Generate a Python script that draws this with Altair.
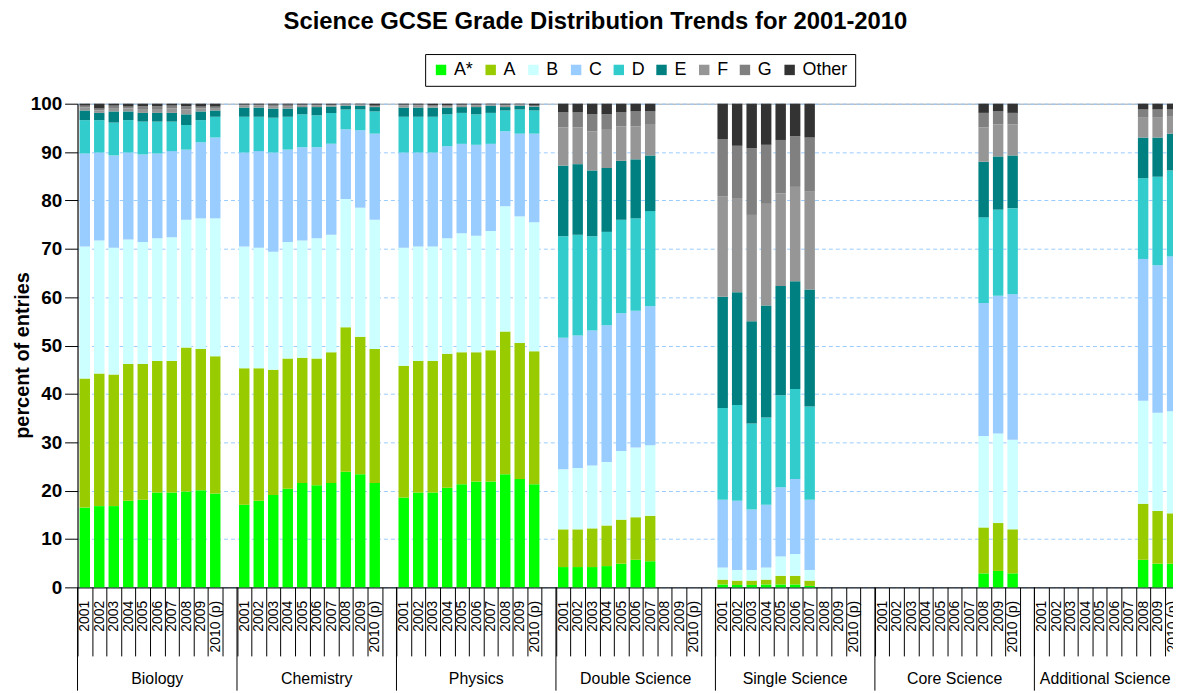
import altair as alt
import pandas as pd

# ---------------- data ----------------
GRADES = ["A*", "A", "B", "C", "D", "E", "F", "G", "Other"]
COLORS = ["#00ff00", "#99cc00", "#ccffff", "#99ccff", "#33cccc",
          "#008080", "#969696", "#808080", "#333333"]
YEARS = ["2001", "2002", "2003", "2004", "2005", "2006", "2007",
         "2008", "2009", "2010 (p)"]
SUBJECTS = ["Biology", "Chemistry", "Physics", "Double Science",
            "Single Science", "Core Science", "Additional Science"]

# each row: year, then % for A*, A, B, C, D, E, F, G, Other
BIOLOGY = [
    ["2001", 16.5, 26.7, 27.3, 19.2, 6.9, 2.0, 0.6, 0.4, 0.4],
    ["2002", 16.8, 27.4, 27.5, 18.2, 6.7, 1.5, 0.5, 0.4, 1.0],
    ["2003", 16.8, 27.2, 26.2, 19.1, 6.8, 2.3, 0.7, 0.5, 0.4],
    ["2004", 17.9, 28.3, 25.7, 18.0, 6.7, 1.8, 0.6, 0.4, 0.6],
    ["2005", 18.1, 28.1, 25.2, 18.1, 6.8, 1.8, 0.8, 0.6, 0.5],
    ["2006", 19.6, 27.2, 25.4, 17.5, 6.6, 1.8, 0.8, 0.6, 0.5],
    ["2007", 19.6, 27.2, 25.6, 17.8, 6.1, 1.8, 0.9, 0.6, 0.4],
    ["2008", 19.8, 29.8, 26.4, 14.5, 5.1, 2.2, 1.0, 0.7, 0.5],
    ["2009", 20.1, 29.2, 27.0, 15.7, 4.6, 1.8, 0.6, 0.4, 0.6],
    ["2010 (p)", 19.4, 28.4, 28.5, 16.7, 4.3, 1.3, 0.5, 0.3, 0.6],
]
CHEMISTRY = [
    ["2001", 17.1, 28.2, 25.2, 19.4, 7.4, 1.9, 0.4, 0.2, 0.2],
    ["2002", 17.9, 27.4, 24.9, 20.0, 7.1, 1.9, 0.4, 0.2, 0.2],
    ["2003", 19.1, 25.9, 24.4, 20.5, 7.2, 1.9, 0.5, 0.3, 0.2],
    ["2004", 20.4, 26.9, 24.1, 19.1, 6.8, 1.7, 0.5, 0.3, 0.2],
    ["2005", 21.6, 25.9, 24.2, 19.3, 6.8, 1.5, 0.3, 0.2, 0.2],
    ["2006", 21.1, 26.2, 24.9, 18.8, 6.6, 1.7, 0.3, 0.2, 0.2],
    ["2007", 21.6, 27.0, 24.3, 18.8, 6.4, 1.3, 0.3, 0.1, 0.2],
    ["2008", 23.9, 29.9, 26.5, 14.4, 4.1, 0.8, 0.2, 0.1, 0.1],
    ["2009", 23.4, 28.4, 26.7, 16.0, 4.3, 0.8, 0.2, 0.1, 0.1],
    ["2010 (p)", 21.6, 27.7, 26.7, 17.8, 4.6, 0.9, 0.2, 0.1, 0.4],
]
PHYSICS = [
    ["2001", 18.6, 27.2, 24.4, 19.7, 7.4, 1.9, 0.4, 0.2, 0.2],
    ["2002", 19.6, 27.2, 23.7, 19.4, 7.4, 1.9, 0.4, 0.2, 0.2],
    ["2003", 19.6, 27.2, 23.7, 19.4, 7.4, 1.9, 0.3, 0.2, 0.3],
    ["2004", 20.6, 27.7, 23.9, 19.0, 6.6, 1.4, 0.3, 0.2, 0.3],
    ["2005", 21.3, 27.3, 24.6, 18.5, 6.4, 1.2, 0.3, 0.2, 0.2],
    ["2006", 21.9, 26.7, 24.1, 18.8, 6.3, 1.5, 0.3, 0.2, 0.2],
    ["2007", 21.9, 27.1, 24.7, 18.0, 6.4, 1.5, 0.2, 0.1, 0.1],
    ["2008", 23.4, 29.5, 25.9, 15.5, 4.3, 0.7, 0.3, 0.2, 0.2],
    ["2009", 22.4, 28.1, 26.2, 17.1, 5.0, 0.8, 0.2, 0.1, 0.1],
    ["2010 (p)", 21.3, 27.5, 26.7, 18.3, 4.8, 0.8, 0.1, 0.1, 0.4],
]
DOUBLE_SCIENCE = [
    ["2001", 4.2, 7.8, 12.4, 27.2, 21.0, 14.6, 7.9, 3.1, 1.8],
    ["2002", 4.2, 7.8, 12.7, 27.4, 20.8, 14.6, 7.6, 3.1, 1.8],
    ["2003", 4.2, 8.0, 13.0, 27.9, 19.5, 13.6, 8.1, 3.5, 2.2],
    ["2004", 4.4, 8.4, 13.1, 28.3, 19.3, 13.2, 7.9, 3.2, 2.2],
    ["2005", 4.9, 9.1, 14.2, 28.5, 19.3, 12.2, 7.1, 2.9, 1.8],
    ["2006", 5.7, 8.8, 14.4, 28.3, 19.1, 12.2, 6.8, 3.1, 1.6],
    ["2007", 5.4, 9.4, 14.6, 28.7, 19.7, 11.5, 6.5, 2.6, 1.6],
]
SINGLE_SCIENCE = [
    ["2001", 0.6, 1.0, 2.5, 14.0, 19.0, 23.0, 20.7, 11.9, 7.3],
    ["2002", 0.5, 0.9, 2.2, 14.3, 19.8, 23.3, 19.5, 10.8, 8.7],
    ["2003", 0.5, 0.9, 2.2, 12.5, 17.8, 21.1, 22.0, 13.8, 9.2],
    ["2004", 0.6, 1.0, 2.5, 13.0, 18.0, 23.2, 21.0, 12.2, 8.5],
    ["2005", 0.6, 1.8, 4.0, 14.3, 19.0, 22.6, 19.2, 11.0, 7.5],
    ["2006", 0.6, 1.8, 4.5, 15.5, 18.6, 22.3, 19.5, 10.5, 6.7],
    ["2007", 0.3, 1.1, 2.2, 14.5, 19.3, 24.2, 20.2, 11.2, 7.0],
]
CORE_SCIENCE = [
    ["2008", 2.9, 9.5, 18.9, 27.5, 17.7, 11.5, 7.1, 3.0, 1.9],
    ["2009", 3.4, 9.9, 18.5, 28.5, 17.8, 11.0, 6.6, 2.7, 1.6],
    ["2010 (p)", 2.9, 9.1, 18.5, 30.1, 17.8, 10.9, 6.4, 2.4, 1.9],
]
ADDITIONAL_SCIENCE = [
    ["2008", 5.7, 11.6, 21.3, 29.3, 16.7, 8.4, 4.1, 1.7, 1.2],
    ["2009", 4.9, 10.9, 20.3, 30.5, 18.3, 8.1, 4.1, 1.7, 1.2],
    ["2010 (p)", 4.9, 10.4, 21.1, 32.0, 17.8, 7.6, 3.5, 1.5, 1.2],
]
TABLES = [BIOLOGY, CHEMISTRY, PHYSICS, DOUBLE_SCIENCE,
          SINGLE_SCIENCE, CORE_SCIENCE, ADDITIONAL_SCIENCE]

rows = []
for subj, table in zip(SUBJECTS, TABLES):
    for rec in table:
        for gi, g in enumerate(GRADES):
            rows.append({"key": f"{subj}|{rec[0]}", "grade": g,
                         "gi": gi, "value": rec[1 + gi]})
df = pd.DataFrame(rows)

# ten year slots plus one empty slot per subject
KEYS = [f"{s}|{y}" for s in SUBJECTS for y in YEARS + [""]]
groups = pd.DataFrame({
    "subject": SUBJECTS,
    "first": [f"{s}|{YEARS[0]}" for s in SUBJECTS],
    "mid": [f"{s}|{YEARS[5]}" for s in SUBJECTS],
})
groups_main = groups.iloc[:-1]
groups_last = groups.iloc[-1:]

# ---------------- chart ----------------
W, H = 1103, 487          # visible plot area
XRANGE = 1124             # full category extent (last group runs off the edge)
FONT = "Liberation Sans"
xscale = alt.Scale(domain=KEYS, range=[0, XRANGE],
                   paddingInner=0, paddingOuter=0)

x_axis = alt.Axis(
    title=None, labelExpr="split(datum.label, '|')[1]", labelAngle=270,
    labelFont=FONT, labelFontSize=14, labelColor="black",
    labelOverlap=False, labelLimit=200, labelPadding=-56,
    tickBand="extent", tickSize=69, tickColor="black",
    domainColor="black", grid=False,
)
y_axis = alt.Axis(
    title="percent of entries", values=list(range(0, 101, 10)),
    grid=True, gridColor="#99ccff", gridDash=[4, 3],
    tickSize=13, tickColor="black", domainColor="black",
    labelFont=FONT, labelFontSize=19, labelFontWeight="bold",
    labelColor="black", labelPadding=3,
    titleFont=FONT, titleFontSize=20, titleFontWeight="bold",
    titleColor="black", titlePadding=-2, titleY=253,
)
legend = alt.Legend(
    title=None, orient="none", legendX=350, legendY=-50,
    direction="horizontal", columns=9, symbolType="square",
    symbolSize=110, symbolStrokeWidth=0, labelFont=FONT,
    labelFontSize=18, labelColor="black", labelOffset=4,
    columnPadding=8, padding=7, strokeColor="black",
)

bars = alt.Chart(df).mark_bar(width=alt.RelativeBandSize(0.72)).encode(
    x=alt.X("key:N", scale=xscale, axis=x_axis),
    y=alt.Y("value:Q", stack="zero",
            scale=alt.Scale(domain=[0, 100], nice=False), axis=y_axis),
    color=alt.Color("grade:N", scale=alt.Scale(domain=GRADES, range=COLORS),
                    legend=legend),
    order=alt.Order("gi:Q", sort="ascending"),
)

seps = alt.Chart(groups).mark_rule(color="black", strokeWidth=1).encode(
    x=alt.X("first:N", scale=xscale, bandPosition=0, axis=x_axis),
    y=alt.value(H), y2=alt.value(H + 104),
)

glabels = alt.Chart(groups_main).mark_text(
    font=FONT, fontSize=16, color="black", baseline="middle"
).encode(
    x=alt.X("mid:N", scale=xscale, bandPosition=0.5, axis=x_axis),
    y=alt.value(H + 92),
    text="subject:N",
)
glabel_last = alt.Chart(groups_last).mark_text(
    font=FONT, fontSize=16, color="black", baseline="middle", dx=-9
).encode(
    x=alt.X("mid:N", scale=xscale, bandPosition=0.5, axis=x_axis),
    y=alt.value(H + 92),
    text="subject:N",
)

chart = alt.layer(bars, seps, glabels, glabel_last).properties(
    width=W, height=H,
    autosize=alt.AutoSizeParams(type="none"),
    padding={"left": 70, "top": 94, "right": 0, "bottom": 104},
    title=alt.TitleParams(
        "Science GCSE Grade Distribution Trends for 2001-2010",
        font=FONT, fontSize=24, fontWeight="bold", color="black",
        anchor="middle", frame="group", dx=-30, offset=20,
    ),
).configure_view(stroke="#a0a0a0")

chart.save("out.html", embed_options={"renderer": "svg", "actions": False})
